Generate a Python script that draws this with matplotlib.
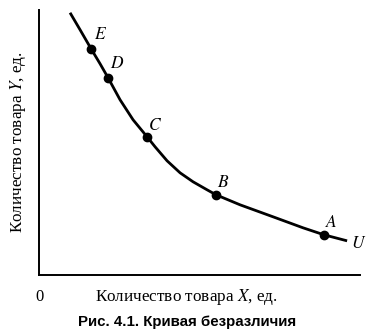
import matplotlib.pyplot as plt

plt.rcParams['font.family'] = ['Liberation Serif', 'DejaVu Serif']
plt.rcParams['mathtext.fontset'] = 'stix'

# indifference curve (x, y in the chart's own units)
curve_x = [31, 41, 52, 61, 69, 81, 94, 108, 116, 128, 141, 154, 168, 177, 201, 234, 264, 285, 308]
curve_y = [262, 245, 226, 211, 197, 175, 155, 138, 128, 114, 102, 93, 85, 80, 70, 58, 47, 40, 34]

# marked bundles on the curve
point_names = ["E", "D", "C", "B", "A"]
point_x = [52, 69, 108, 177, 285]
point_y = [226, 197, 138, 80, 40]

curve_name = "U"
x_label = r"Количество товара $X$, ед."
y_label = r"Количество товара $Y$, ед."
caption = "Рис. 4.1. Кривая безразличия"

fig = plt.figure(figsize=(3.72, 3.36), dpi=100)
ax = fig.add_axes([0.105, 0.182, 0.863, 0.789])

ax.plot(curve_x, curve_y, color="black", lw=2, solid_capstyle="butt", solid_joinstyle="round")
ax.plot(point_x, point_y, "o", color="black", ms=6)

label_offsets = [(6.5, 10), (6.5, 10), (5.5, 7.5), (5, 8.5), (5, 8.5)]
for name, x, y, off in zip(point_names, point_x, point_y, label_offsets):
    ax.annotate("$%s$" % name, (x, y), xytext=off, textcoords="offset points",
                ha="center", va="center", fontsize=12.5)
ax.annotate("$%s$" % curve_name, (curve_x[-1], curve_y[-1]), xytext=(8, -2.5),
            textcoords="offset points", ha="center", va="center", fontsize=12.5)

ax.set_xlim(0, 321)
ax.set_ylim(0, 265)
ax.set_xticks([])
ax.set_yticks([])
for side in ["top", "right"]:
    ax.spines[side].set_visible(False)
for side in ["left", "bottom"]:
    ax.spines[side].set_linewidth(1.4)

ax.text(0, -22, "0", transform=ax.transData, ha="center", va="center", fontsize=12)
ax.set_xlabel(x_label, fontsize=12.3)
ax.xaxis.set_label_coords(0.458, -0.083)
ax.xaxis.label.set_va("center")
ax.set_ylabel(y_label, fontsize=12.3, labelpad=8)

fig.text(0.503, 0.042, caption, ha="center", va="center", fontsize=10.8,
         fontweight="bold", family="Liberation Sans")

fig.savefig("out.png", dpi=100)
